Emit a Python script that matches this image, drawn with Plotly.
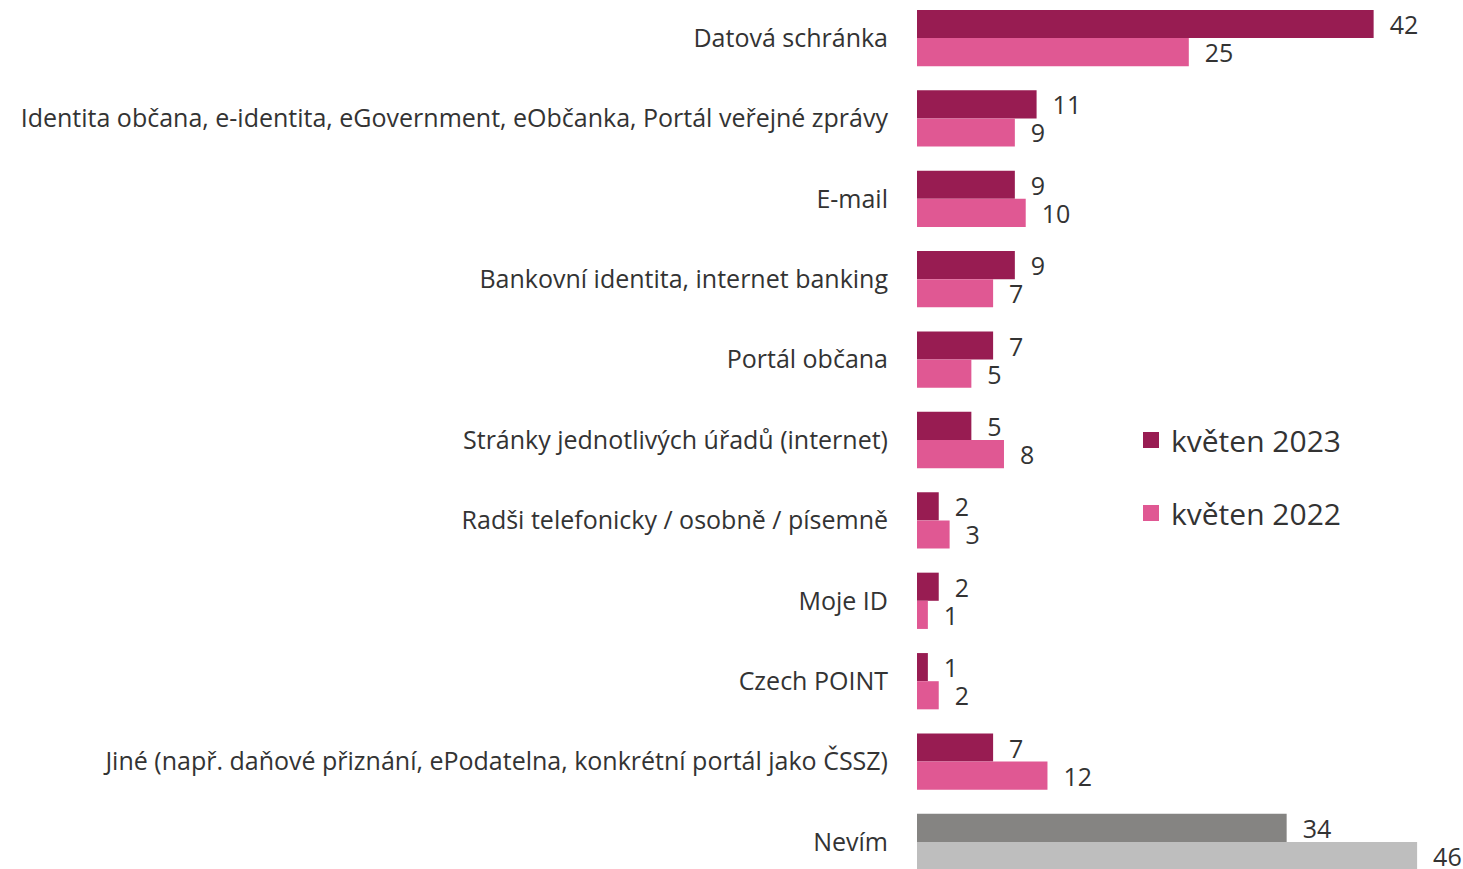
import plotly.graph_objects as go

categories = [
    "Datová schránka",
    "Identita občana, e-identita, eGovernment, eObčanka, Portál veřejné zprávy",
    "E-mail",
    "Bankovní identita, internet banking",
    "Portál občana",
    "Stránky jednotlivých úřadů (internet)",
    "Radši telefonicky / osobně / písemně",
    "Moje ID",
    "Czech POINT",
    "Jiné (např. daňové přiznání, ePodatelna, konkrétní portál jako ČSSZ)",
    "Nevím",
]
values_2023 = [42, 11, 9, 9, 7, 5, 2, 2, 1, 7, 34]
values_2022 = [25, 9, 10, 7, 5, 8, 3, 1, 2, 12, 46]
series_names = ["květen 2023", "květen 2022"]

FONT = "Open Sans"
TEXT = "#333333"
COL_23, COL_22 = "#981C52", "#E05893"
GREY_23, GREY_22 = "#858482", "#BEBEBE"

colors_23 = [GREY_23 if c == "Nevím" else COL_23 for c in categories]
colors_22 = [GREY_22 if c == "Nevím" else COL_22 for c in categories]

W, H = 1463, 869
L, R = 917, 10
plot_w = W - L - R

fig = go.Figure()
for name, vals, cols, grp in [
    (series_names[0], values_2023, colors_23, "g1"),
    (series_names[1], values_2022, colors_22, "g2"),
]:
    fig.add_trace(go.Bar(
        y=categories, x=vals, name=name, orientation="h",
        marker=dict(color=cols, line=dict(width=0)),
        text=vals, texttemplate="  %{x}", textposition="outside",
        textfont=dict(family=FONT, size=25, color=TEXT),
        constraintext="none", cliponaxis=False,
        legendgroup=grp, showlegend=False,
    ))

# legend entries with larger square swatches
for name, col, grp in [(series_names[0], COL_23, "g1"), (series_names[1], COL_22, "g2")]:
    fig.add_trace(go.Scatter(
        x=[None], y=[None], mode="markers", name=name, legendgroup=grp,
        marker=dict(symbol="square", size=20, color=col, line=dict(width=0)),
        showlegend=True,
    ))

fig.update_layout(
    width=W, height=H,
    margin=dict(l=L, r=R, t=0, b=0, autoexpand=False),
    paper_bgcolor="white", plot_bgcolor="white",
    barmode="group", bargap=0.3, bargroupgap=0,
    font=dict(family=FONT, color=TEXT),
    showlegend=True,
    legend=dict(
        x=(1131 - L) / plot_w, y=1 - 414 / H,
        xanchor="left", yanchor="top", traceorder="grouped", tracegroupgap=31,
        font=dict(family=FONT, size=30, color=TEXT), bgcolor="rgba(0,0,0,0)",
        itemwidth=30,
    ),
    xaxis=dict(range=[0, 49.3], autorange=False, visible=False,
               showgrid=False, zeroline=False),
    yaxis=dict(
        categoryorder="array", categoryarray=categories,
        range=[10.336, -0.473], autorange=False,
        showgrid=False, zeroline=False, showline=False,
        ticks="", ticklabelstandoff=28,
        tickfont=dict(family=FONT, size=25, color=TEXT),
    ),
)

fig.write_html("out.html")
